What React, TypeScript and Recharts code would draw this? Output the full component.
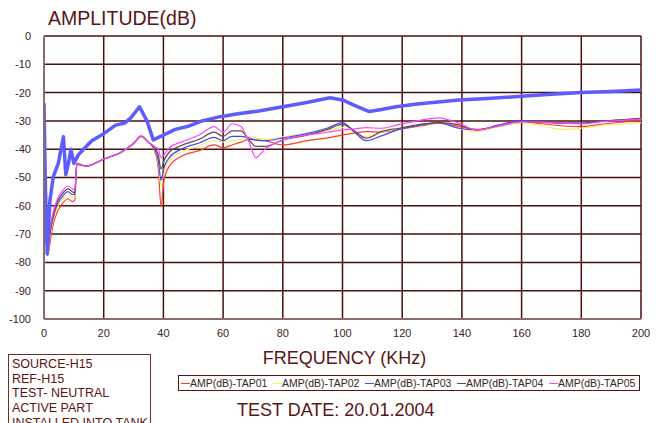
import { LineChart, Line, XAxis, YAxis, CartesianGrid } from "recharts";

const X_TICKS = [0, 20, 40, 60, 80, 100, 120, 140, 160, 180, 200];
const Y_TICKS = [0, -10, -20, -30, -40, -50, -60, -70, -80, -90, -100];

// thick reference trace (not in legend)
const FREQ_REF = [0, 0.5, 1.1, 1.4, 2, 3.1, 4.8, 6.5, 7.3, 8.2, 9, 10, 11.5, 13.7, 16, 20, 24, 27, 29, 32, 34.5, 36.6, 38, 40, 44, 48, 53, 59, 65, 72, 80, 88, 95.8, 100, 104, 109, 113, 118, 125, 132, 139, 150, 160, 170, 180, 190, 200];
const REF_DB = [-23.7, -55, -77, -69.7, -58, -49.7, -45, -35.6, -49, -45, -40, -45, -42, -39.5, -37, -34.5, -31.5, -30.8, -29, -25, -30, -36.7, -36, -35, -33, -32, -30, -28.5, -27.5, -26.5, -25, -23.5, -21.8, -22.6, -24.5, -26.7, -26, -25, -24, -23.3, -22.6, -22, -21.3, -20.6, -20, -19.6, -19.1];

const FREQ = [0, 0.5, 1.2, 2, 3, 4.5, 6, 8, 9.5, 10.3, 11, 14, 20, 26, 30, 32.5, 35, 37, 38.3, 39.2, 40.2, 42, 46, 52, 57, 60, 63, 66, 68.5, 71, 74, 80, 88, 95, 100, 104, 108, 113, 119, 126, 132, 139, 145, 152, 160, 167, 174, 180, 188, 195, 200];
const TAP01 = [-62, -70, -77.5, -73, -67, -62, -59.5, -57.5, -58.5, -58, -45.5, -46, -43.5, -41, -38, -35.3, -37.5, -40.5, -47, -60, -51, -46, -42.5, -40.5, -38.5, -39.5, -38.5, -37.5, -36.5, -36.7, -37, -38.5, -37, -36, -35, -34.3, -33.8, -34, -33, -31.8, -30.8, -32, -33, -32, -30.5, -31, -31.8, -32, -31, -30.3, -29.9];
const TAP02 = [-61, -69, -76.5, -71, -65.5, -60.5, -58, -56, -57, -57, -45, -46, -43.5, -41, -38, -35.5, -37.5, -40, -45, -53, -48, -44, -41, -38.8, -37, -37.5, -37, -36.5, -35.5, -36, -36.5, -35.6, -34.5, -33.5, -32.4, -34, -35.6, -34, -32.8, -31.5, -30.6, -32.6, -33.8, -32, -30.5, -31.8, -33, -32.6, -31.5, -31, -30.6];
const TAP03 = [-61, -69, -76, -70, -64.5, -59.5, -57, -55, -56, -56, -45, -46, -43.5, -41, -38, -35.5, -37.5, -39.8, -44, -51, -46.5, -43, -40, -37.8, -35.8, -37, -35.5, -35.5, -36, -36.8, -37, -36, -34.5, -32.5, -30.6, -34, -37, -35.3, -33, -31.5, -30.6, -32.6, -33.2, -31.5, -30, -30.3, -30.8, -30.8, -30, -29.5, -29.1];
const TAP04 = [-60, -68, -75.5, -69, -63.5, -58.5, -56, -54, -55, -55.5, -45, -46, -43.5, -41, -38, -35.5, -37.5, -39.5, -42, -47, -44, -41, -38.7, -36.5, -34, -35.5, -33.5, -33.5, -36.5, -39, -39, -36.8, -35, -33, -31.2, -33.5, -36.1, -33.8, -32.6, -31.2, -30.6, -31.4, -33.2, -31.8, -30.3, -30.5, -30.8, -30.8, -30, -29.5, -29.1];
const TAP05 = [-60, -68, -75, -68, -62.5, -57.5, -55, -53, -54, -54.5, -45, -46, -43.5, -41, -38, -35.5, -37.5, -39, -40, -43, -42, -39.5, -37.5, -35, -32, -34, -31, -32, -37, -43, -40, -36.8, -35, -34, -33.2, -32.8, -32.4, -32.6, -31.2, -29.8, -28.9, -30.8, -33.2, -31.8, -30.3, -30.5, -30.8, -31, -30.2, -29.7, -29.4];

const SERIES = [
  { name: "AMP(dB)-TAP01", values: TAP01, color: "#ff3b22" },
  { name: "AMP(dB)-TAP02", values: TAP02, color: "#f2ee70" },
  { name: "AMP(dB)-TAP03", values: TAP03, color: "#4646ff" },
  { name: "AMP(dB)-TAP04", values: TAP04, color: "#5e4a40" },
  { name: "AMP(dB)-TAP05", values: TAP05, color: "#ff44ff" },
];

const INFO = ["SOURCE-H15", "REF-H15", "TEST- NEUTRAL", "ACTIVE PART", "INSTALLED INTO TANK"];

const refData = FREQ_REF.map((f, i) => ({ f, v: REF_DB[i] }));
const seriesData = SERIES.map((s) => FREQ.map((f, i) => ({ f, v: s.values[i] })));

const FONT = "'Liberation Sans', Arial, sans-serif";
const MAROON = "#5a1414";

export default function App() {
  return (
    <div style={{ position: "absolute", left: 0, top: 0, width: 661, height: 423, background: "#fff", overflow: "hidden", fontFamily: FONT }}>
      <div style={{ position: "absolute", left: 48, top: 5, fontSize: 19.5, color: MAROON, lineHeight: "26px" }}>
        AMPLITUDE(dB)
      </div>

      <LineChart width={661} height={423} margin={{ top: 36, right: 20, bottom: 84, left: 8 }}>
        <CartesianGrid stroke="#4a0f0f" strokeWidth={1.5} />
        <XAxis
          type="number"
          dataKey="f"
          domain={[0, 200]}
          ticks={X_TICKS}
          height={20}
          tickLine={false}
          tickSize={0}
          tickMargin={10}
          axisLine={{ stroke: "#8c6c68", strokeWidth: 2 }}
          tick={{ fill: "#3a2222", fontSize: 11, fontFamily: FONT }}
          allowDataOverflow
        />
        <YAxis
          type="number"
          domain={[-100, 0]}
          ticks={Y_TICKS}
          width={36}
          tickLine={false}
          tickSize={0}
          tickMargin={13}
          axisLine={{ stroke: "#8c6c68", strokeWidth: 2 }}
          tick={{ fill: "#3a2222", fontSize: 11, fontFamily: FONT }}
          allowDataOverflow
        />
        {SERIES.map((s, i) => (
          <Line
            key={s.name}
            data={seriesData[i]}
            dataKey="v"
            name={s.name}
            type="monotone"
            stroke={s.color}
            strokeWidth={1.2}
            dot={false}
            isAnimationActive={false}
          />
        ))}
        <Line
          data={refData}
          dataKey="v"
          name="REF"
          type="linear"
          stroke="#5c5cff"
          strokeWidth={3.5}
          strokeLinejoin="round"
          dot={false}
          legendType="none"
          isAnimationActive={false}
        />
      </LineChart>

      <div style={{ position: "absolute", left: 0, width: 661, top: 348, textAlign: "center", paddingLeft: 28, boxSizing: "border-box", fontSize: 18, color: MAROON }}>
        FREQUENCY (KHz)
      </div>

      <div style={{ position: "absolute", left: 178, top: 375, width: 460, height: 14, border: "1px solid " + MAROON, display: "flex", alignItems: "center" }}>
        {SERIES.map((s) => (
          <div key={s.name} style={{ width: 92, display: "flex", alignItems: "center", paddingLeft: 2, boxSizing: "border-box" }}>
            <span style={{ display: "inline-block", width: 9, height: 1, background: s.color }} />
            <span style={{ fontSize: 10.5, color: "#3a2222", whiteSpace: "nowrap" }}>{s.name}</span>
          </div>
        ))}
      </div>

      <div style={{ position: "absolute", left: 237, top: 400, fontSize: 18, color: MAROON, whiteSpace: "nowrap" }}>
        TEST DATE: 20.01.2004
      </div>

      <div style={{ position: "absolute", left: 8, top: 354, width: 143, height: 80, border: "1px solid #6a3030", padding: "2px 0 0 3px", boxSizing: "border-box" }}>
        {INFO.map((t) => (
          <div key={t} style={{ fontSize: 12.5, lineHeight: "14.7px", color: MAROON, whiteSpace: "nowrap" }}>
            {t}
          </div>
        ))}
      </div>
    </div>
  );
}
